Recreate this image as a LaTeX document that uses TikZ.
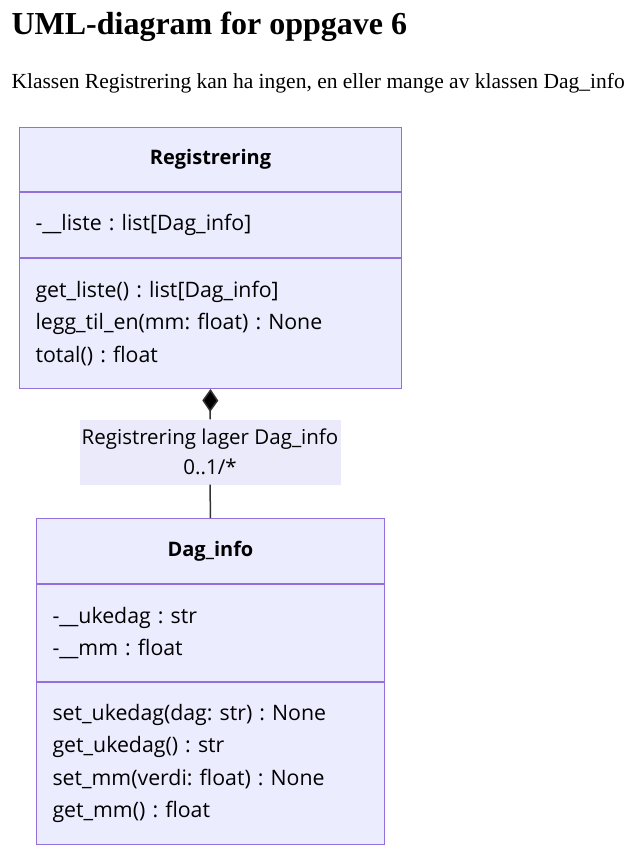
\documentclass[tikz,border=0pt]{standalone}
\usepackage{fontspec}
\setmainfont{Liberation Serif}
\newfontfamily\umlfont{Open Sans}
\usetikzlibrary{positioning, arrows.meta}
\definecolor{umlfill}{HTML}{ECECFF}
\definecolor{umlline}{HTML}{9370DB}
\definecolor{lblfill}{HTML}{EAEAFA}
\definecolor{edgeline}{HTML}{333333}
\frenchspacing

\begin{document}
\begin{tikzpicture}[x=1pt, y=-1pt, node distance=0pt,
    part/.style={draw=umlline, fill=umlfill, line width=1pt, inner xsep=16pt, inner ysep=0pt,
      align=left, font=\umlfont\fontsize{21.3}{32.5}\selectfont},
    head/.style={part, align=center, font=\umlfont\bfseries\fontsize{20}{22}\selectfont},
    assoc/.style={draw=edgeline, line width=1.5pt}]
   \useasboundingbox (0,0) rectangle (638,856);
   \node[anchor=base west, font=\bfseries\fontsize{32}{34}\selectfont] (title) at (8,35) {UML-diagram for oppgave 6};
   \node[anchor=base west, font=\fontsize{21.5}{24}\selectfont] (intro) at (8,89) {Klassen Registrering kan ha ingen, en eller mange av klassen Dag\_info};

   % Registrering
   \node[head, anchor=north west, text width=350pt, minimum height=64pt] (reghead) at (19,127) {Registrering};
   \node[part, text width=350pt, minimum height=65pt] (regattr) [below=of reghead] {-\_\_liste : list[Dag\_info]};
   \node[part, text width=350pt, minimum height=130pt] (regmeth) [below=of regattr] {get\_liste() : list[Dag\_info]\\legg\_til\_en(mm: float) : None\\total() : float};

   % Dag_info
   \node[head, anchor=north west, text width=316pt, minimum height=65pt] (daghead) at (36,518) {Dag\_info};
   \node[part, text width=316pt, minimum height=97pt] (dagattr) [below=of daghead] {-\_\_ukedag : str\\-\_\_mm : float};
   \node[part, text width=316pt, minimum height=162pt] (dagmeth) [below=of dagattr] {set\_ukedag(dag: str) : None\\get\_ukedag() : str\\set\_mm(verdi: float) : None\\get\_mm() : float};

   \node[fill=lblfill, align=center, minimum width=261pt, minimum height=65pt, inner sep=0pt,
     font=\umlfont\fontsize{20.5}{30}\selectfont] (lbl) at (210,452) {Registrering lager Dag\_info\\0.\kern0pt.1/*};

   \path[assoc]
    (regmeth.south) edge [{Diamond[length=23pt, width=16pt]}-] (lbl.north)
    (lbl.south) edge (daghead.north);
\end{tikzpicture}
\end{document}
